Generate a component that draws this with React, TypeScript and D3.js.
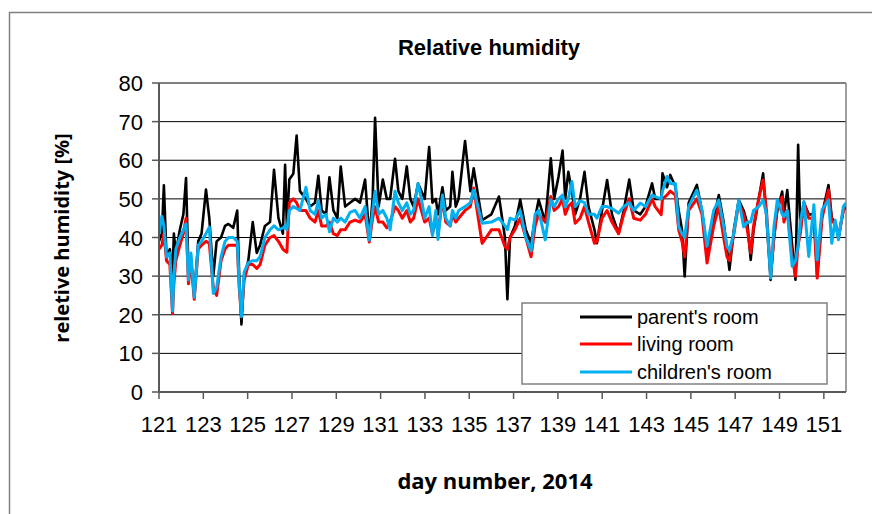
import React from 'react';
import * as d3 from 'd3';

// day number (2014)
const days = [
  121.00, 121.13, 121.22, 121.34, 121.49, 121.61, 121.67, 121.76, 121.94, 122.10,
  122.22, 122.33, 122.44, 122.59, 122.77, 122.92, 123.12, 123.27, 123.45, 123.60,
  123.80, 123.98, 124.13, 124.35, 124.53, 124.62, 124.72, 124.84, 125.03, 125.23,
  125.41, 125.56, 125.78, 126.01, 126.19, 126.39, 126.59, 126.69, 126.77, 126.88,
  127.06, 127.21, 127.36, 127.63, 127.82, 128.04, 128.19, 128.34, 128.54, 128.69,
  128.87, 129.05, 129.20, 129.40, 129.62, 129.85, 130.07, 130.30, 130.49, 130.64,
  130.75, 130.91, 131.10, 131.28, 131.43, 131.65, 131.80, 131.98, 132.18, 132.34,
  132.49, 132.69, 132.84, 132.99, 133.19, 133.34, 133.49, 133.59, 133.79, 133.94,
  134.14, 134.24, 134.39, 134.52, 134.81, 135.05, 135.20, 135.58, 136.00, 136.34,
  136.61, 136.72, 136.84, 137.06, 137.30, 137.55, 137.79, 137.97, 138.13, 138.43,
  138.68, 138.83, 139.03, 139.21, 139.33, 139.47, 139.63, 139.78, 140.00, 140.20,
  140.38, 140.65, 140.76, 140.99, 141.22, 141.44, 141.74, 141.97, 142.22, 142.42,
  142.72, 142.95, 143.25, 143.39, 143.66, 143.72, 143.92, 144.07, 144.30, 144.45,
  144.60, 144.72, 144.90, 145.27, 145.50, 145.73, 146.03, 146.26, 146.48, 146.63,
  146.74, 146.94, 147.16, 147.38, 147.55, 147.70, 147.83, 148.06, 148.26, 148.41,
  148.60, 148.75, 148.90, 149.12, 149.20, 149.35, 149.57, 149.72, 149.84, 149.94,
  150.10, 150.32, 150.55, 150.70, 150.92, 151.21, 151.36, 151.51, 151.66, 151.88,
  152.00,
];

const parentRoom = [
  39, 41, 53.5, 35, 37, 30, 41, 36, 42, 46,
  55.4, 31, 35, 25, 39, 41, 52.4, 45, 30, 39,
  40, 43, 43.5, 42.5, 47, 30, 17.5, 30, 34, 44,
  36, 38, 43, 44, 57.5, 45, 41, 58.8, 43, 55,
  56.5, 66.4, 52, 50, 48, 49, 56, 47, 46, 55.6,
  47, 45, 58.4, 48, 49, 50, 49, 55, 40, 50,
  71, 48, 55, 50, 50, 60.4, 52, 50, 58.4, 50,
  48, 54, 52, 50, 63.4, 49, 50, 46, 53, 47,
  48, 57, 48, 50, 65, 52, 57.9, 44.5, 46, 50.6,
  40, 24, 40, 43, 49.8, 42, 38.5, 45, 49.8, 44,
  60.5, 50, 55.8, 62.5, 50, 57, 52, 46, 50, 57,
  48, 42, 38.5, 47, 54.9, 46, 41, 47, 55, 47,
  46, 48, 54, 50, 50, 56.6, 53, 56.2, 53.2, 47,
  42, 29.9, 49, 53.6, 47, 36.3, 45, 51, 44, 37,
  31.6, 42, 49.7, 47, 43.6, 34.2, 42, 50, 56.6, 45,
  29, 40, 47, 51.9, 46, 52.3, 38, 29.1, 64, 42,
  49, 46, 46, 30, 46, 53.6, 45, 44, 40, 47,
  48,
];

const livingRoom = [
  37, 38, 41, 34, 33, 20.3, 28, 34, 38, 41,
  45, 28, 34, 24, 37, 38, 39, 38.5, 27, 25,
  34, 37, 38, 38, 38, 27, 19.5, 29, 33, 33,
  32, 33, 38, 40, 40.5, 39, 37, 36.5, 36.2, 49,
  50, 49, 47, 47, 45, 44, 47, 43, 43, 44,
  41, 40.5, 42, 42, 44, 44.5, 44, 46, 38.8, 45,
  48, 44, 44, 42.5, 44, 48, 47, 45, 47, 44,
  45, 50, 47, 44, 45, 41, 45, 41, 50, 44,
  43, 46, 44, 45, 47, 48, 52.8, 38.5, 42, 42,
  37.7, 37, 40, 42, 45, 40, 35, 43, 46, 44,
  50.6, 47, 48, 50, 46, 48, 49, 43.7, 45, 48,
  44, 38.5, 39, 45, 47, 44, 41, 46, 50, 45,
  44.5, 46, 50, 48, 45.9, 50, 51, 52, 51, 42,
  39, 35, 47, 50, 46, 33.4, 43, 48, 40, 35,
  34, 41, 49, 46, 42, 36, 43, 50, 54.9, 47,
  30.5, 40, 48, 50.5, 44, 47, 35, 30, 38, 41.1,
  49, 45, 45, 29.5, 45, 52.3, 44, 44, 40, 47,
  48.5,
];

const childrenRoom = [
  41, 45.5, 43, 35, 36, 21, 30, 37, 40, 42,
  43.5, 29, 36, 24.5, 38, 39, 41, 42.7, 25.5, 27,
  35, 39, 40, 40, 39, 28, 19.5, 31, 33.5, 34,
  34, 35, 40, 42, 43, 42, 42.5, 43, 42, 47,
  48, 47.5, 47, 53, 47, 46, 49.5, 45, 46, 41.5,
  45, 44, 45, 44, 46.5, 47, 45, 48, 39.3, 47,
  52, 46, 47, 45, 42, 52, 49, 47, 49, 46,
  47, 54, 50, 45, 48, 40.5, 47, 39.5, 51, 45,
  43, 47, 45, 47, 48, 49, 52.3, 43.7, 44, 45,
  43, 42, 45, 44.5, 47, 40, 36.5, 46, 47, 39.4,
  49.7, 48, 50, 51, 48, 50, 54.5, 48, 49.5, 49,
  46, 46, 45, 48, 48, 47.5, 46.3, 48, 49, 47,
  48.9, 48, 51, 50.6, 50, 52, 55.8, 54, 54, 42.8,
  41, 40, 48, 52.3, 47.1, 37.7, 47, 49.7, 43, 37.7,
  36.7, 41.2, 49.7, 42.8, 44, 44, 47, 48, 49.7, 46,
  29.5, 42.8, 49.7, 46, 45.4, 47, 32.5, 34, 38, 44,
  49.3, 35.1, 48.5, 34.2, 47.2, 49.7, 38.5, 44.5, 39.4, 48,
  49,
];

const yTicks = [0, 10, 20, 30, 40, 50, 60, 70, 80];
const xTicks = [121, 123, 125, 127, 129, 131, 133, 135, 137, 139, 141, 143, 145, 147, 149, 151];
const seriesNames = ["parent's room", 'living room', "children's room"];
const seriesColors = ['#000000', '#ff0000', '#00b0f0'];
const seriesData = [parentRoom, livingRoom, childrenRoom];

export default function App() {
  const W = 872;
  const H = 514;
  const left = 159, right = 846, top = 83, bottom = 392;
  const x = d3.scaleLinear().domain([121, 152]).range([left, right]);
  const y = d3.scaleLinear().domain([0, 80]).range([bottom, top]);
  const makeLine = (vals: number[]) =>
    d3.line<number>().x((_, i) => x(days[i])).y((d) => y(d))(vals) || '';

  const legendX = 522, legendY = 303, legendW = 305, legendH = 81;
  const rowY = [317, 344, 372];
  const titleFont = "'Open Sans', 'DejaVu Sans', sans-serif";

  return (
    <svg
      width={W}
      height={H}
      style={{ position: 'absolute', left: 0, top: 0, background: '#fff' }}
      fontFamily="'Liberation Sans', Arial, sans-serif"
    >
      <rect x={0} y={0} width={W} height={H} fill="#fff" />
      {/* outer chart border */}
      <rect x={9.5} y={12.5} width={W + 10} height={H + 10} fill="none" stroke="#808080" strokeWidth={1.5} />

      <text x={489} y={55} textAnchor="middle" fontSize={22} fontWeight="bold">
        Relative humidity
      </text>

      <defs>
        <clipPath id="plotClip">
          <rect x={left} y={top - 10} width={right - left} height={bottom - top + 10} />
        </clipPath>
      </defs>

      {/* gridlines */}
      {yTicks.map((t) => (
        <line key={'g' + t} x1={left} x2={right} y1={y(t)} y2={y(t)} stroke="#000" strokeWidth={1} />
      ))}
      {/* right border */}
      <line x1={right} x2={right} y1={top} y2={bottom} stroke="#808080" strokeWidth={1.5} />

      {/* series */}
      <g clipPath="url(#plotClip)">
        {seriesData.map((vals, i) => (
          <path
            key={seriesNames[i]}
            d={makeLine(vals)}
            fill="none"
            stroke={seriesColors[i]}
            strokeWidth={i === 0 ? 2.6 : 3}
            strokeLinejoin="round"
          />
        ))}
      </g>

      {/* axes */}
      <line x1={left} x2={left} y1={top} y2={bottom} stroke="#595959" strokeWidth={2} />
      <line x1={left} x2={right} y1={bottom} y2={bottom} stroke="#595959" strokeWidth={2} />
      {yTicks.map((t) => (
        <g key={'y' + t}>
          <line x1={left - 7} x2={left} y1={y(t)} y2={y(t)} stroke="#595959" strokeWidth={1.5} />
          <text x={143} y={y(t) + 8} textAnchor="end" fontSize={22}>
            {t}
          </text>
        </g>
      ))}
      {xTicks.map((t) => (
        <g key={'x' + t}>
          <line x1={x(t)} x2={x(t)} y1={bottom} y2={bottom + 7} stroke="#595959" strokeWidth={1.5} />
          <text x={x(t)} y={432} textAnchor="middle" fontSize={22}>
            {t}
          </text>
        </g>
      ))}

      <text
        transform="translate(69,238) rotate(-90)"
        textAnchor="middle"
        fontSize={20}
        fontWeight="bold"
        fontFamily={titleFont}
      >
        reletive humidity [%]
      </text>
      <text x={495} y={489} textAnchor="middle" fontSize={22} fontWeight="bold" fontFamily={titleFont}>
        day number, 2014
      </text>

      {/* legend */}
      <rect x={legendX} y={legendY} width={legendW} height={legendH} fill="#fff" stroke="#808080" strokeWidth={1.5} />
      {seriesNames.map((n, i) => (
        <g key={'l' + n}>
          <line x1={580} x2={632} y1={rowY[i]} y2={rowY[i]} stroke={seriesColors[i]} strokeWidth={3} />
          <text x={637} y={rowY[i] + 7} fontSize={20}>
            {n}
          </text>
        </g>
      ))}
    </svg>
  );
}
